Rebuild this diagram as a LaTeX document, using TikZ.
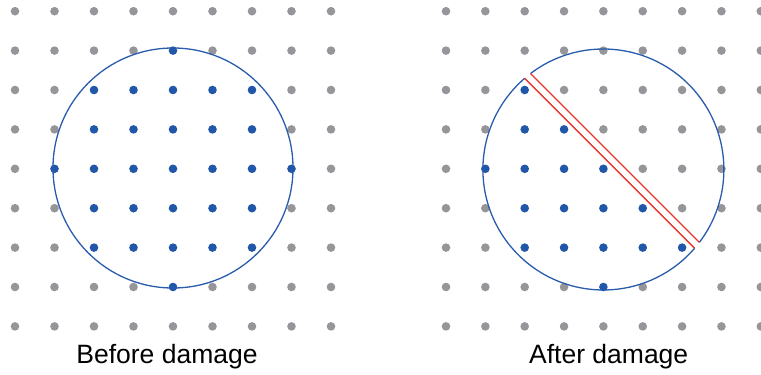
\documentclass[tikz,border=0pt]{standalone}
\usepackage{fontspec}
\setmainfont{Liberation Sans}
\definecolor{dotgray}{RGB}{150,149,153}
\definecolor{dotblue}{RGB}{33,87,168}
\definecolor{ringblue}{RGB}{40,92,172}
\definecolor{crackred}{RGB}{232,52,45}
\begin{document}
\begin{tikzpicture}[x=1pt,y=-1pt,
  gdot/.style={fill=dotgray},
  bdot/.style={fill=dotblue},
  ring/.style={draw=ringblue,line width=1.3pt},
  crack/.style={draw=crackred,line width=1.3pt},
  caption/.style={font=\fontsize{26.5}{30}\selectfont,anchor=base,inner sep=0pt}]
\useasboundingbox (0,0) rectangle (761,375);
% left panel dots
\foreach \i in {0,...,8}{\foreach \j in {0,...,8}{
  \pgfmathtruncatemacro\dd{(\i-4)*(\i-4)+(\j-4)*(\j-4)}
  \ifnum\dd>9
    \fill[gdot] ({15+39.5*\i},{11.2+39.4*\j}) circle[radius=4.3pt];
  \else
    \fill[bdot] ({15+39.5*\i},{11.2+39.4*\j}) circle[radius=4.3pt];
  \fi
}}
% right panel dots
\foreach \i in {0,...,8}{\foreach \j in {0,...,8}{
  \pgfmathtruncatemacro\dd{(\i-4)*(\i-4)+(\j-4)*(\j-4)}
  \pgfmathtruncatemacro\ok{(\dd<=9)&&(\i<=\j) ? 1 : 0}
  \ifnum\ok=1
    \fill[bdot] ({446+39.35*\i},{11.2+39.4*\j}) circle[radius=4.3pt];
  \else
    \fill[gdot] ({446+39.35*\i},{11.2+39.4*\j}) circle[radius=4.3pt];
  \fi
}}
% left ring
\coordinate (c1) at (173,168);
\draw[ring] (c1) circle[radius=120];
% right ring with crack
\coordinate (c2) at (603.4,169.5);
\path (c2) ++(229.2:120.5) coordinate (inA);
\path (c2) ++(40.8:120.5) coordinate (inB);
\path (c2) ++(232.8:120.5) coordinate (outA);
\path (c2) ++(37.2:120.5) coordinate (outB);
\draw[ring] (inB) arc[start angle=40.8, end angle=229.2, radius=120.5];
\draw[ring] (outA) arc[start angle=232.8, end angle=397.2, radius=120.5];
\draw[crack] (inA) -- (inB);
\draw[crack] (outA) -- (outB);
% captions
\node[caption] (lbl1) at (167,363.3) {Before damage};
\node[caption] (lbl2) at (608.7,363.8) {After damage};
\end{tikzpicture}
\end{document}
